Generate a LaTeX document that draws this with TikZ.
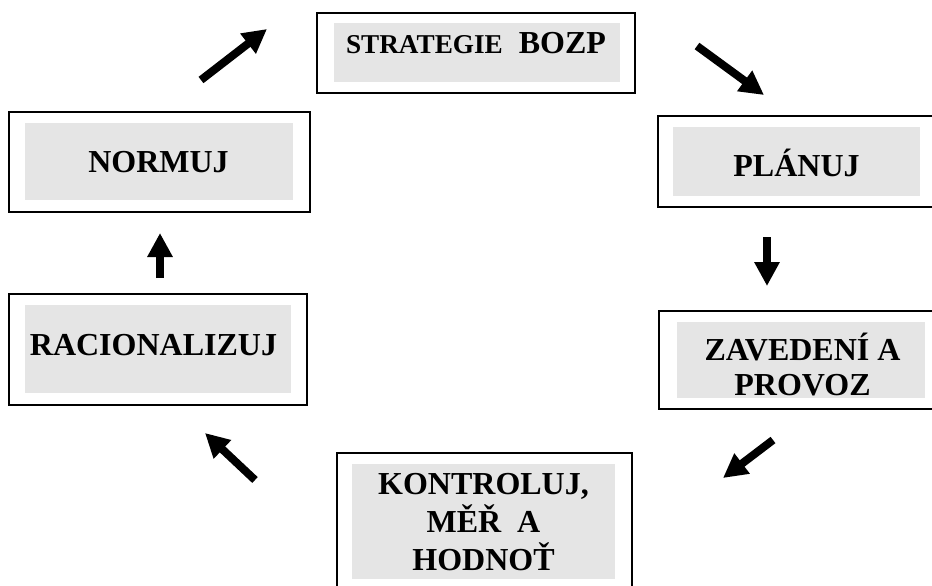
\documentclass[tikz,border=0pt]{standalone}
\usepackage{fontspec}
\setmainfont{Liberation Serif}
\usetikzlibrary{positioning}
\usetikzlibrary{arrows.meta}
\tikzset{outerbox/.style={draw=black,line width=1pt,fill=white,inner sep=0pt,outer sep=0pt},
	greybox/.style={fill=black!10,draw=none,inner sep=0pt,outer sep=0pt},
	boxtext/.style={font=\bfseries\fontsize{16}{19}\selectfont,align=center,inner sep=0pt},
	bigarrow/.style={line width=4pt,-{Triangle[length=12pt,width=12pt]}},}

\begin{document}
\begin{tikzpicture}[x=0.5pt,y=-0.5pt]
	\clip (0,0) rectangle (932,585);
	% boxes
	\node[outerbox, minimum width=159pt, minimum height=40pt] (strategie) at (476,53) {};
	\node[greybox, minimum width=143pt, minimum height=29.5pt] (strategieIn) at (477,52.5) {};
	\node[boxtext, anchor=base] (strategieTxt) at (476,53) {{\fontsize{13.6}{16}\selectfont STRATEGIE}\ \ BOZP};

	\node[outerbox, minimum width=150.5pt, minimum height=50pt] (normuj) at (159.5,162) {};
	\node[greybox, minimum width=134pt, minimum height=38.5pt] (normujIn) at (159,161.5) {};
	\node[boxtext, anchor=base] (normujTxt) at (158.5,172) {NORMUJ};

	\node[outerbox, minimum width=141pt, minimum height=45.5pt] (planuj) at (799,161.5) {};
	\node[greybox, minimum width=123.5pt, minimum height=34.5pt] (planujIn) at (796.5,161.5) {};
	\node[boxtext, anchor=base] (planujTxt) at (796.5,176) {PLÁNUJ};

	\node[outerbox, minimum width=149pt, minimum height=55.5pt] (racio) at (158,349.5) {};
	\node[greybox, minimum width=133pt, minimum height=44pt] (racioIn) at (158,349) {};
	\node[boxtext, anchor=base] (racioTxt) at (153.5,355) {RACIONALIZUJ};

	\node[outerbox, minimum width=140.5pt, minimum height=49pt] (zavedeni) at (799.5,360) {};
	\node[greybox, minimum width=124pt, minimum height=38pt] (zavedeniIn) at (801,360) {};
	\node[boxtext, font=\bfseries\fontsize{16}{17.5}\selectfont] (zavedeniTxt) at (802.5,365) {ZAVEDENÍ A\\PROVOZ};

	\node[outerbox, minimum width=147.5pt, minimum height=73.5pt] (kontroluj) at (484.5,526.5) {};
	\node[greybox, minimum width=131.5pt, minimum height=57.5pt] (kontrolujIn) at (483.5,521.5) {};
	\node[boxtext] (kontrolujTxt) at (483.5,522) {KONTROLUJ,\\MĚŘ\ \ A\\HODNOŤ};

	% arrows
	\coordinate (t1) at (201,80);  \coordinate (h1) at (267,29);
	\coordinate (t2) at (697,46);  \coordinate (h2) at (764,95);
	\coordinate (t3) at (767,237); \coordinate (h3) at (767,286);
	\coordinate (t4) at (773,440); \coordinate (h4) at (723,478);
	\coordinate (t5) at (255,480); \coordinate (h5) at (205,433);
	\coordinate (t6) at (160,278); \coordinate (h6) at (160,233);
	\foreach \i in {1,...,6}
		\draw[bigarrow] (t\i) -- (h\i);
\end{tikzpicture}
\end{document}
